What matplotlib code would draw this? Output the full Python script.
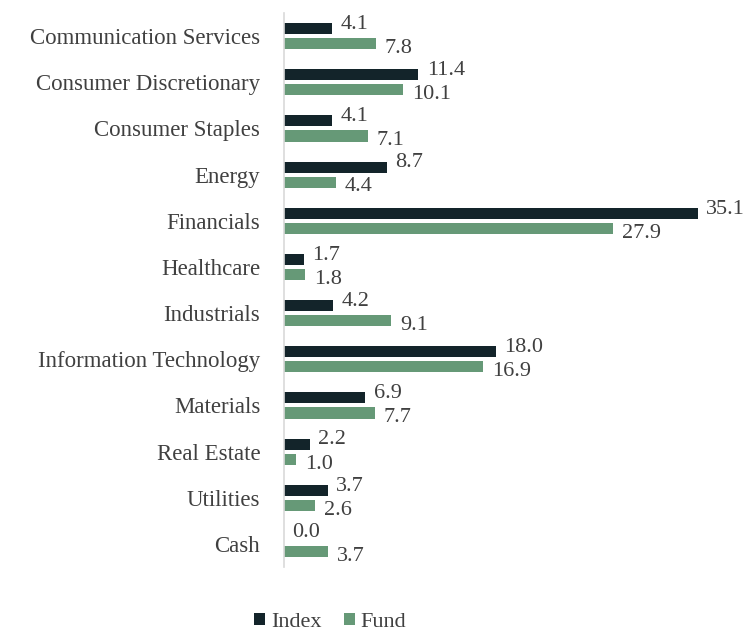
import numpy as np
import matplotlib.pyplot as plt
from matplotlib.transforms import offset_copy

# Sector weights (%)
sectors = ["Communication Services", "Consumer Discretionary", "Consumer Staples",
           "Energy", "Financials", "Healthcare", "Industrials",
           "Information Technology", "Materials", "Real Estate", "Utilities", "Cash"]
index_w = [4.1, 11.4, 4.1, 8.7, 35.1, 1.7, 4.2, 18.0, 6.9, 2.2, 3.7, 0.0]
fund_w = [7.8, 10.1, 7.1, 4.4, 27.9, 1.8, 9.1, 16.9, 7.7, 1.0, 2.6, 3.7]

dark = "#13242a"
green = "#669977"
txt = "#404040"

plt.rcParams['font.family'] = ['Liberation Serif', 'DejaVu Serif']

fig = plt.figure(figsize=(7.45, 6.35), dpi=100)
ax = fig.add_axes([0.381, 0.107, 0.6, 0.8725])

y = np.arange(len(sectors))
h = 0.24
off = 0.163
ax.barh(y - off, index_w, height=h, color=dark, label="Index")
ax.barh(y + off, fund_w, height=h, color=green, label="Fund")

up = offset_copy(ax.transData, fig=fig, x=6, y=3, units='points')
down = offset_copy(ax.transData, fig=fig, x=6.5, y=-3.5, units='points')
for i in range(len(sectors)):
    ax.text(index_w[i], y[i] - off, f"{index_w[i]:.1f}", transform=up,
            va='center', ha='left', fontsize=16, color=txt)
    ax.text(fund_w[i], y[i] + off, f"{fund_w[i]:.1f}", transform=down,
            va='center', ha='left', fontsize=16, color=txt)

ax.set_ylim(11.5, -0.5)
ax.set_xlim(0, 0.6 * 745 / 11.8)
ax.set_yticks(y)
ax.set_yticklabels(sectors, fontsize=16.5, color=txt)
ax.tick_params(axis='y', length=0, pad=17)
ax.set_xticks([])
for s in ['top', 'right', 'bottom']:
    ax.spines[s].set_visible(False)
ax.spines['left'].set_color('#d9d9d9')
ax.spines['left'].set_linewidth(1.2)

fig.legend(loc='center', bbox_to_anchor=(0.443, 0.02), ncol=2, frameon=False,
           fontsize=16, handlelength=0.5, handleheight=0.5, handletextpad=0.25,
           columnspacing=1.0, labelcolor=txt, borderpad=0.2)

fig.savefig("out.png", dpi=100)
